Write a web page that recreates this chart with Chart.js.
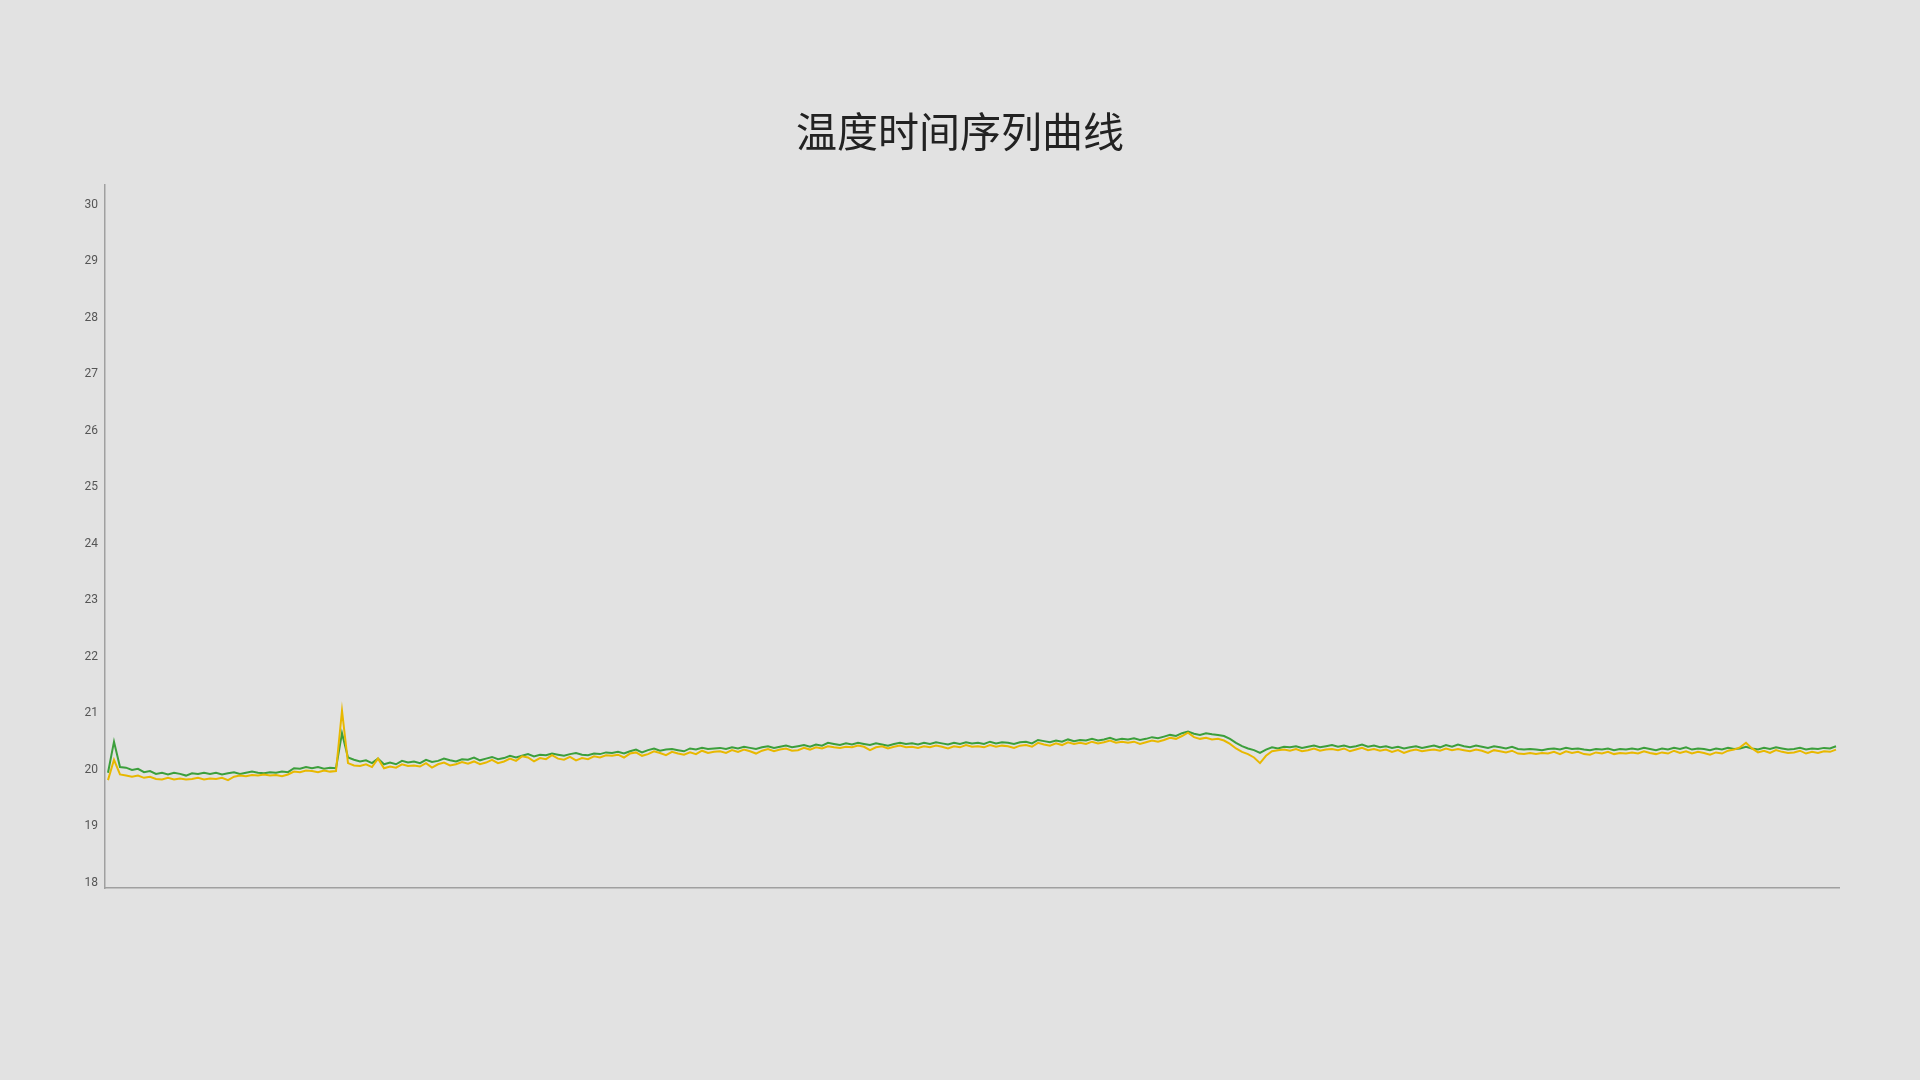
<!doctype html>
<html>
<head>
	<meta charset="utf-8">
	<title>温度时间序列曲线</title>
	<script src="https://cdn.jsdelivr.net/npm/chart.js@4.4.1/dist/chart.umd.min.js"></script>
	<style>
		html, body { margin: 0; padding: 0; background: #e2e2e2; }
		#holder { width: 1920px; height: 1080px; }
	</style>
</head>
<body>
	<div id="holder"><canvas id="chart"></canvas></div>
	<script>
		// two temperature sensors
		var greenTemps = [
			19.95, 20.50, 20.05, 20.04, 20.00, 20.02, 19.96, 19.98, 19.93, 19.95, 19.92, 19.95, 19.93, 19.90, 19.94, 19.93, 19.95,
			19.93, 19.95, 19.92, 19.94, 19.96, 19.93, 19.95, 19.97, 19.95, 19.94, 19.96, 19.95, 19.97, 19.96, 20.03, 20.02, 20.05,
			20.03, 20.05, 20.02, 20.04, 20.03, 20.65, 20.22, 20.18, 20.15, 20.17, 20.12, 20.20, 20.10, 20.13, 20.10, 20.16, 20.13,
			20.15, 20.12, 20.18, 20.14, 20.16, 20.20, 20.17, 20.15, 20.19, 20.18, 20.22, 20.17, 20.20, 20.23, 20.19, 20.21, 20.25,
			20.22, 20.25, 20.28, 20.24, 20.27, 20.26, 20.29, 20.27, 20.25, 20.28, 20.30, 20.27, 20.26, 20.29, 20.28, 20.31, 20.30,
			20.32, 20.29, 20.33, 20.36, 20.31, 20.35, 20.38, 20.34, 20.36, 20.37, 20.35, 20.33, 20.38, 20.36, 20.39, 20.37, 20.38,
			20.39, 20.37, 20.40, 20.38, 20.41, 20.39, 20.37, 20.40, 20.42, 20.39, 20.41, 20.43, 20.40, 20.42, 20.44, 20.41, 20.45,
			20.43, 20.48, 20.46, 20.44, 20.47, 20.45, 20.48, 20.46, 20.44, 20.47, 20.45, 20.43, 20.46, 20.48, 20.46, 20.47, 20.45,
			20.48, 20.46, 20.49, 20.47, 20.45, 20.48, 20.46, 20.49, 20.47, 20.48, 20.46, 20.50, 20.47, 20.49, 20.48, 20.46, 20.49,
			20.50, 20.47, 20.53, 20.51, 20.49, 20.52, 20.50, 20.54, 20.51, 20.53, 20.52, 20.55, 20.52, 20.54, 20.57, 20.53, 20.55,
			20.54, 20.56, 20.53, 20.55, 20.58, 20.56, 20.59, 20.62, 20.60, 20.65, 20.68, 20.64, 20.62, 20.65, 20.63, 20.62, 20.60,
			20.55, 20.48, 20.42, 20.38, 20.35, 20.30, 20.36, 20.40, 20.38, 20.41, 20.40, 20.42, 20.39, 20.41, 20.43, 20.40, 20.42,
			20.44, 20.41, 20.43, 20.40, 20.42, 20.45, 20.41, 20.43, 20.40, 20.42, 20.39, 20.41, 20.38, 20.40, 20.42, 20.39, 20.41,
			20.43, 20.40, 20.44, 20.41, 20.45, 20.42, 20.40, 20.43, 20.41, 20.39, 20.42, 20.40, 20.38, 20.41, 20.37, 20.36, 20.37,
			20.36, 20.35, 20.37, 20.38, 20.36, 20.39, 20.37, 20.38, 20.36, 20.35, 20.37, 20.36, 20.38, 20.35, 20.37, 20.36, 20.38,
			20.36, 20.39, 20.37, 20.35, 20.38, 20.36, 20.39, 20.37, 20.40, 20.36, 20.38, 20.37, 20.35, 20.38, 20.36, 20.39, 20.37,
			20.38, 20.41, 20.38, 20.36, 20.39, 20.37, 20.40, 20.38, 20.36, 20.37, 20.39, 20.36, 20.38, 20.37, 20.39, 20.38, 20.42
		];
		var yellowTemps = [
			19.82, 20.18, 19.92, 19.90, 19.88, 19.90, 19.86, 19.88, 19.84, 19.83, 19.86, 19.83, 19.85, 19.83, 19.84, 19.86, 19.83,
			19.85, 19.84, 19.86, 19.82, 19.88, 19.90, 19.89, 19.91, 19.90, 19.92, 19.90, 19.91, 19.89, 19.92, 19.97, 19.96, 19.99,
			19.98, 19.96, 19.99, 19.97, 19.98, 21.05, 20.12, 20.08, 20.07, 20.10, 20.05, 20.20, 20.03, 20.06, 20.04, 20.10, 20.07,
			20.08, 20.06, 20.12, 20.04, 20.10, 20.13, 20.08, 20.10, 20.14, 20.11, 20.15, 20.10, 20.13, 20.18, 20.12, 20.15, 20.20,
			20.16, 20.24, 20.22, 20.15, 20.21, 20.19, 20.26, 20.20, 20.18, 20.23, 20.17, 20.21, 20.19, 20.24, 20.22, 20.26, 20.25,
			20.27, 20.22, 20.29, 20.31, 20.25, 20.28, 20.33, 20.30, 20.26, 20.32, 20.29, 20.27, 20.31, 20.28, 20.34, 20.30, 20.32,
			20.33, 20.30, 20.35, 20.32, 20.36, 20.33, 20.29, 20.34, 20.37, 20.33, 20.36, 20.38, 20.34, 20.35, 20.39, 20.36, 20.40,
			20.38, 20.42, 20.40, 20.39, 20.41, 20.40, 20.43, 20.41, 20.35, 20.40, 20.42, 20.38, 20.41, 20.43, 20.40, 20.41, 20.39,
			20.42, 20.40, 20.43, 20.41, 20.38, 20.42, 20.40, 20.44, 20.41, 20.42, 20.40, 20.44, 20.41, 20.43, 20.42, 20.39, 20.43,
			20.44, 20.41, 20.48, 20.45, 20.43, 20.47, 20.44, 20.49, 20.46, 20.48, 20.46, 20.50, 20.47, 20.49, 20.52, 20.48, 20.50,
			20.48, 20.50, 20.46, 20.49, 20.52, 20.50, 20.53, 20.57, 20.55, 20.60, 20.66, 20.58, 20.55, 20.57, 20.54, 20.55, 20.52,
			20.46, 20.38, 20.32, 20.28, 20.22, 20.12, 20.25, 20.33, 20.35, 20.36, 20.34, 20.37, 20.33, 20.35, 20.38, 20.34, 20.36,
			20.37, 20.35, 20.38, 20.33, 20.36, 20.39, 20.35, 20.37, 20.34, 20.36, 20.32, 20.35, 20.30, 20.34, 20.36, 20.33, 20.35,
			20.36, 20.34, 20.38, 20.35, 20.37, 20.35, 20.33, 20.36, 20.34, 20.30, 20.35, 20.33, 20.31, 20.34, 20.29, 20.28, 20.30,
			20.28, 20.30, 20.29, 20.32, 20.28, 20.33, 20.30, 20.32, 20.28, 20.27, 20.31, 20.29, 20.32, 20.28, 20.30, 20.29, 20.31,
			20.29, 20.33, 20.30, 20.28, 20.31, 20.29, 20.34, 20.30, 20.33, 20.29, 20.32, 20.30, 20.27, 20.31, 20.29, 20.34, 20.36,
			20.40, 20.48, 20.38, 20.31, 20.34, 20.30, 20.35, 20.32, 20.30, 20.31, 20.34, 20.29, 20.32, 20.30, 20.33, 20.32, 20.36
		];
		// sample index along the time axis (no labels shown)
		var timeLabels = greenTemps.map(function(v, i) { return i + 1; });
		var yMin = 17.91;
		var yMax = 30.35;

		var axisColor = '#a0a0a0';

		var config = {
			type: 'line',
			data: {
				labels: timeLabels,
				datasets: [{
					label: '温度1',
					data: greenTemps,
					borderColor: '#3c9f3c',
					borderWidth: 2,
					pointRadius: 0,
					tension: 0,
					order: 2
				}, {
					label: '温度2',
					data: yellowTemps,
					borderColor: '#e8b800',
					borderWidth: 2,
					pointRadius: 0,
					tension: 0,
					order: 1
				}]
			},
			options: {
				responsive: true,
				maintainAspectRatio: false,
				animation: false,
				layout: {
					// equal side padding so the title sits in the middle of the page
					padding: { top: 107, left: 81, right: 81, bottom: 192 }
				},
				plugins: {
					legend: { display: false },
					tooltip: { enabled: false },
					title: {
						display: true,
						text: '温度时间序列曲线',
						color: '#222222',
						font: { family: '"Noto Sans CJK SC", "Noto Sans", sans-serif', size: 41, weight: 'normal' },
						padding: { top: 0, bottom: 29 }
					}
				},
				scales: {
					x: {
						type: 'category',
						offset: true,
						grid: { display: false, drawTicks: false },
						border: { display: true, color: axisColor, width: 1.5 },
						ticks: { display: false }
					},
					y: {
						min: yMin,
						max: yMax,
						grid: { display: false, drawTicks: false },
						border: { display: true, color: axisColor, width: 1.5 },
						ticks: {
							stepSize: 1,
							includeBounds: false,
							padding: 7,
							color: '#555555',
							font: { family: 'Roboto, sans-serif', size: 12 }
						},
						afterFit: function(scale) { scale.width = 24; }
					}
				}
			}
		};

		var ctx = document.getElementById('chart').getContext('2d');
		window.myLine = new Chart(ctx, config);
	</script>
</body>
</html>
